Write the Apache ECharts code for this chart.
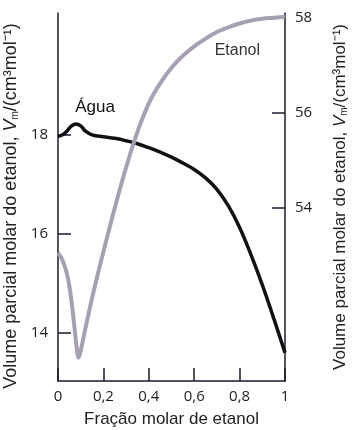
<!DOCTYPE html>
<html><head><meta charset="utf-8">
<script src="https://cdn.jsdelivr.net/npm/echarts@6/dist/echarts.min.js"></script>
<style>html,body{margin:0;padding:0;background:#fff}#c{width:355px;height:430px}</style>
</head><body><div id="c"></div>
<script>
// Water partial molar volume (left axis)
const waterX = [0, 0.02, 0.04, 0.06, 0.08, 0.10, 0.12, 0.15, 0.2, 0.25, 0.3, 0.35, 0.4, 0.45, 0.5, 0.55, 0.6, 0.65, 0.7, 0.75, 0.8, 0.85, 0.9, 0.95, 1.0];
const waterV = [17.97, 18.0, 18.08, 18.18, 18.22, 18.18, 18.08, 18.0, 17.96, 17.93, 17.88, 17.82, 17.74, 17.65, 17.55, 17.43, 17.3, 17.13, 16.9, 16.57, 16.13, 15.58, 14.97, 14.3, 13.6];
// Ethanol partial molar volume (right axis)
const ethX = [0, 0.02, 0.04, 0.055, 0.07, 0.085, 0.09, 0.1, 0.12, 0.15, 0.18, 0.2, 0.22, 0.25, 0.3, 0.35, 0.4, 0.45, 0.5, 0.55, 0.6, 0.65, 0.7, 0.75, 0.8, 0.85, 0.9, 0.95, 1.0];
const ethV = [53.05, 52.9, 52.6, 52.2, 51.6, 50.95, 50.85, 51.0, 51.45, 52.1, 52.7, 53.08, 53.45, 54.0, 54.85, 55.6, 56.2, 56.62, 56.95, 57.2, 57.4, 57.56, 57.7, 57.8, 57.88, 57.94, 57.98, 58.0, 58.02];
const xTicks = [0, 0.2, 0.4, 0.6, 0.8, 1];
const leftTicks = [14, 16, 18];
const rightTicks = [54, 56, 58];
const xName = 'Fração molar de etanol';
const yName = 'Volume parcial molar do etanol, {i|V}{s|m}/(cm³mol⁻¹)';
const waterLabel = 'Água';
const ethLabel = 'Etanol';

const axisCol = '#1c1a2c';
function nameStyle(fs, pad) {
  return {
    fontFamily: 'Liberation Sans', fontSize: fs, color: '#222', padding: pad,
    rich: {
      i: {fontFamily: 'Liberation Sans', fontSize: fs, fontStyle: 'italic', color: '#222'},
      s: {fontFamily: 'Liberation Sans', fontSize: 10, color: '#222', verticalAlign: 'bottom', padding: [7, 0, 0, 0]}
    }
  };
}
const hiddenSym = {symbol: 'circle', symbolSize: 1, itemStyle: {color: 'rgba(0,0,0,0)'}};
const chart = echarts.init(document.getElementById('c'), null, {renderer: 'canvas'});
chart.setOption({
  animation: false,
  grid: {left: 58, right: 70, top: 13, bottom: 49, containLabel: false, outerBoundsMode: 'none'},
  xAxis: {
    type: 'value', min: 0, max: 1, interval: 0.2,
    name: xName, nameLocation: 'middle', nameGap: 30,
    nameTextStyle: {fontFamily: 'Liberation Sans', fontSize: 17, color: '#222'},
    axisLine: {lineStyle: {color: axisCol, width: 1.5}},
    axisTick: {inside: true, length: 13, lineStyle: {color: axisCol, width: 1.5}, customValues: xTicks},
    axisLabel: {customValues: xTicks, margin: 8, fontFamily: 'Open Sans', fontSize: 15, color: '#222',
      formatter: v => String(v).replace('.', ',')},
    splitLine: {show: false}
  },
  yAxis: [{
    type: 'value', min: 13.03, max: 20.46, position: 'left',
    name: yName, nameLocation: 'middle', nameGap: 33, nameRotate: 90,
    nameTextStyle: nameStyle(18, [0, 18, 0, 0]),
    axisLine: {show: true, lineStyle: {color: axisCol, width: 1.5}},
    axisTick: {show: true, inside: true, length: 13, lineStyle: {color: axisCol, width: 1.5}, customValues: leftTicks},
    axisLabel: {customValues: leftTicks, margin: 10, fontFamily: 'Open Sans', fontSize: 15, color: '#222'},
    splitLine: {show: false}
  }, {
    type: 'value', min: 50.36, max: 58.1, position: 'right',
    name: yName, nameLocation: 'middle', nameGap: 47, nameRotate: 90,
    nameTextStyle: nameStyle(17, [0, 0, 0, 0]),
    axisLine: {show: true, lineStyle: {color: axisCol, width: 1.5}},
    axisTick: {show: true, inside: true, length: 13, lineStyle: {color: axisCol, width: 1.5}, customValues: rightTicks},
    axisLabel: {customValues: rightTicks, margin: 10, fontFamily: 'Open Sans', fontSize: 15, color: '#222'},
    splitLine: {show: false}
  }],
  series: [{
    type: 'line', yAxisIndex: 0, smooth: 0.4, symbol: 'none',
    data: waterX.map((x, i) => [x, waterV[i]]),
    lineStyle: {color: '#111', width: 3.5},
    markPoint: Object.assign({data: [{coord: [0.163, 18.55], value: waterLabel}],
      label: {show: true, formatter: waterLabel, fontFamily: 'Liberation Sans', fontSize: 17, color: '#111', position: 'inside'}}, hiddenSym)
  }, {
    type: 'line', yAxisIndex: 1, smooth: 0.4, symbol: 'none',
    data: ethX.map((x, i) => [x, ethV[i]]),
    lineStyle: {color: '#a7a0b3', width: 4},
    markPoint: Object.assign({data: [{coord: [0.79, 57.3], value: ethLabel}],
      label: {show: true, formatter: ethLabel, fontFamily: 'Liberation Sans', fontSize: 16, color: '#333', position: 'inside'}}, hiddenSym)
  }]
});
</script></body></html>
